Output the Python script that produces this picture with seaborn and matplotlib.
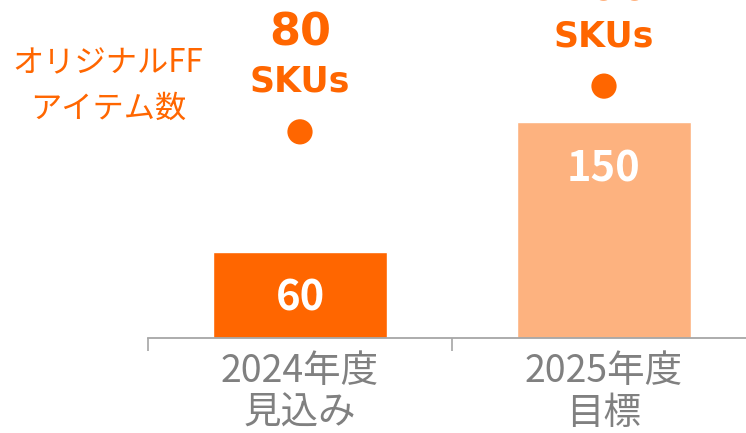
import matplotlib
matplotlib.use("Agg")
import matplotlib.pyplot as plt
import seaborn as sns
import pandas as pd
from matplotlib.ticker import FixedLocator

categories = ["2024年度\n見込み", "2025年度\n目標"]
bar_values = [60, 150]
sku_values = [80, 200]
bar_colors = ["#FF6600", "#FDB27F"]
ylabel_text = "オリジナルFF\nアイテム数"

sns.set_theme(style="white")
plt.rcParams["font.family"] = ["Noto Sans CJK JP", "DejaVu Sans"]

ORANGE = "#FF6600"
GRAY = "#808080"

df = pd.DataFrame({"cat": categories, "val": bar_values})

fig = plt.figure(figsize=(7.46, 4.33), dpi=100)
ax = fig.add_axes([148 / 746, 95 / 433, 608 / 746, 338 / 433])
sns.barplot(data=df, x="cat", y="val", hue="cat", palette=bar_colors,
            width=0.57, legend=False, ax=ax, saturation=1)
ax.set_xlim(-0.5, 1.5)
ax.set_ylim(0, 234.7)

for i, v in enumerate(bar_values):
    ax.annotate(str(v), (i, v), xytext=(0, -34), textcoords="offset points",
                ha="center", va="center", color="white",
                fontsize=30, fontweight="bold",
                family=["Noto Sans CJK JP", "DejaVu Sans"])

for s in ["top", "right", "left"]:
    ax.spines[s].set_visible(False)
ax.spines["bottom"].set_color("#A6A6A6")
ax.spines["bottom"].set_linewidth(1.3)
ax.set_yticks([])
ax.set_xlabel("")
ax.set_ylabel("")
ax.xaxis.set_minor_locator(FixedLocator([-0.5, 0.5, 1.5]))
ax.tick_params(axis="x", which="major", length=0, pad=10, labelsize=27, labelcolor=GRAY)
ax.tick_params(axis="x", which="minor", length=9, width=1.2, color="#A6A6A6", bottom=True)
for lab in ax.get_xticklabels():
    lab.set_linespacing(1.1)

# SKU dots on their own scale
ax2 = ax.twinx()
ax2.set_ylim(-461, 426)
ax2.axis("off")
sns.scatterplot(x=list(range(len(sku_values))), y=sku_values, ax=ax2, s=330,
                color=ORANGE, edgecolor="none", legend=False)
for i, v in enumerate(sku_values):
    ax2.annotate("SKUs", (i, v), xytext=(0, 36), textcoords="offset points",
                 ha="center", va="center", color=ORANGE, fontsize=25,
                 fontweight="bold", family="DejaVu Sans", annotation_clip=False)
    ax2.annotate(str(v), (i, v), xytext=(0, 71), textcoords="offset points",
                 ha="center", va="center", color=ORANGE, fontsize=32,
                 fontweight="bold", family="DejaVu Sans", annotation_clip=False)
ax2.set_xlim(-0.5, 1.5)

fig.text(108 / 746, 1 - 86 / 433, ylabel_text, ha="center", va="center",
         color=ORANGE, fontsize=22.5, linespacing=1.55,
         family=["Noto Sans CJK JP", "DejaVu Sans"])

fig.savefig("out.png", dpi=100)
